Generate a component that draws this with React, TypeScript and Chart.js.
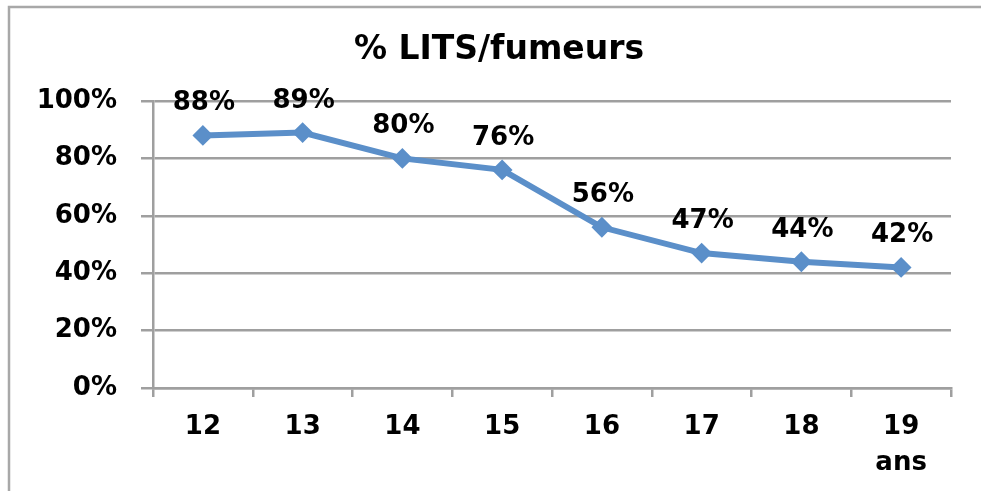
import React, { useEffect, useRef } from 'react';
import { Chart, registerables } from 'chart.js';

Chart.register(...registerables);

const categories: (string | string[])[] = ['12', '13', '14', '15', '16', '17', '18', ['19', 'ans']];
const values: number[] = [88, 89, 80, 76, 56, 47, 44, 42];
const yMin = 0;
const yMax = 100;
const yStep = 20;
const titleText = '% LITS/fumeurs';

const FONT = "'DejaVu Sans', Verdana, sans-serif";
const GRID = '#9f9f9f';
const LINE = '#5b8fc9';

const framePlugin = {
  id: 'frame',
  beforeDraw(chart: any) {
    const ctx = chart.ctx;
    ctx.save();
    ctx.strokeStyle = '#a8a8a8';
    ctx.lineWidth = 2.5;
    ctx.beginPath();
    ctx.moveTo(9, chart.height);
    ctx.lineTo(9, 7);
    ctx.lineTo(chart.width, 7);
    ctx.stroke();
    // title
    ctx.font = `bold 33px ${FONT}`;
    ctx.fillStyle = '#000';
    ctx.textAlign = 'center';
    ctx.textBaseline = 'alphabetic';
    ctx.fillText(titleText, 499, 59);
    ctx.restore();
  },
};

const dataLabelPlugin = {
  id: 'dataLabels',
  afterDatasetsDraw(chart: any) {
    const ctx = chart.ctx;
    const meta = chart.getDatasetMeta(0);
    const data = chart.data.datasets[0].data as number[];
    ctx.save();
    ctx.font = `bold 26px ${FONT}`;
    ctx.fillStyle = '#000';
    ctx.textAlign = 'center';
    ctx.textBaseline = 'alphabetic';
    meta.data.forEach((pt: any, i: number) => {
      ctx.fillText(`${data[i]}%`, pt.x + 1, pt.y - 35 + 10);
    });
    ctx.restore();
  },
};

export default function App() {
  const ref = useRef<HTMLCanvasElement | null>(null);

  useEffect(() => {
    document.body.style.margin = '0';
    if (!ref.current) return;
    const chart = new Chart(ref.current, {
      type: 'line',
      data: {
        labels: categories as any,
        datasets: [
          {
            data: values,
            borderColor: LINE,
            backgroundColor: LINE,
            borderWidth: 6,
            pointStyle: 'rectRot',
            pointRadius: 9,
            pointBorderWidth: 2,
            pointBackgroundColor: LINE,
            pointBorderColor: LINE,
            tension: 0,
            fill: false,
          },
        ],
      },
      options: {
        animation: false,
        responsive: true,
        maintainAspectRatio: false,
        layout: { padding: { left: 0, right: 30, top: 101, bottom: 0 } },
        plugins: {
          legend: { display: false },
          tooltip: { enabled: false },
          title: { display: false },
        },
        scales: {
          x: {
            offset: true,
            grid: {
              display: true,
              drawOnChartArea: false,
              drawTicks: true,
              offset: true,
              color: GRID,
              lineWidth: 2.5,
              tickLength: 9,
            },
            border: { display: true, color: GRID, width: 2.5 },
            ticks: {
              color: '#000',
              font: { family: FONT, size: 26, weight: 'bold', lineHeight: 1.4 },
              padding: 12,
              maxRotation: 0,
              autoSkip: false,
            },
            afterFit: (scale: any) => {
              scale.height = 103;
            },
          },
          y: {
            min: yMin,
            max: yMax,
            ticks: {
              stepSize: yStep,
              color: '#000',
              font: { family: FONT, size: 26, weight: 'bold' },
              padding: 24,
              callback: (v: any) => `${v}%`,
            },
            grid: {
              color: GRID,
              lineWidth: 2.5,
              tickLength: 12,
            },
            border: { display: true, color: GRID, width: 2.5 },
            afterFit: (scale: any) => {
              scale.width = 153;
            },
          },
        },
      },
      plugins: [framePlugin, dataLabelPlugin],
    });
    return () => chart.destroy();
  }, []);

  return (
    <div style={{ width: 981, height: 491, position: 'relative', background: '#fff' }}>
      <canvas ref={ref} />
    </div>
  );
}
